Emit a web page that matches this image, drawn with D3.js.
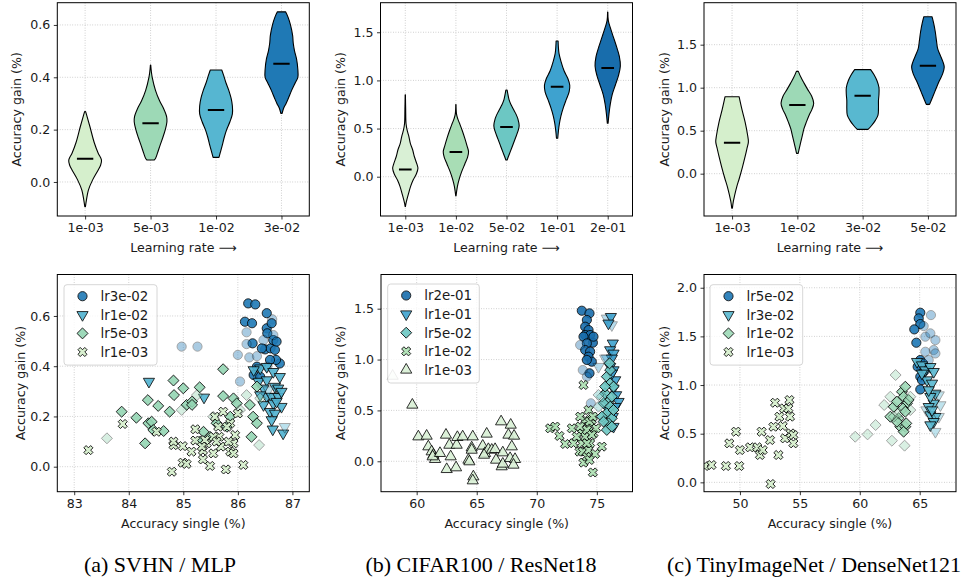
<!DOCTYPE html>
<html><head><meta charset="utf-8">
<script src="https://cdn.jsdelivr.net/npm/d3@7"></script>
<style>body{margin:0;background:#fff}svg{display:block}text{font-family:"DejaVu Sans",sans-serif}</style>
</head><body><svg id="c" width="963" height="582"></svg>
<script>
// ---------------- DATA ----------------
// Top row: violins (profile = [value, relative half-width]) and medians
const svhnLR = ["1e-03","5e-03","1e-02","3e-02"];
const svhnMedians = [0.089, 0.224, 0.275, 0.452];
const svhnViolins = [
  [[0.269,0.03],[0.25,0.12],[0.21,0.3],[0.15,0.56],[0.11,0.8],[0.084,1.0],[0.065,0.95],[0.046,0.8],[0.008,0.46],[-0.031,0.2],[-0.069,0.08],[-0.094,0.02]],
  [[0.447,0.01],[0.42,0.05],[0.40,0.1],[0.35,0.3],[0.31,0.55],[0.28,0.8],[0.25,0.98],[0.23,1.0],[0.20,0.9],[0.17,0.75],[0.14,0.58],[0.11,0.42],[0.09,0.3],[0.084,0.22]],
  [[0.428,0.35],[0.41,0.45],[0.38,0.6],[0.35,0.78],[0.32,0.92],[0.29,1.0],[0.26,1.0],[0.23,0.85],[0.20,0.65],[0.17,0.5],[0.14,0.38],[0.11,0.25],[0.094,0.18]],
  [[0.65,0.25],[0.63,0.4],[0.60,0.55],[0.56,0.68],[0.53,0.72],[0.50,0.8],[0.47,0.92],[0.43,1.0],[0.40,1.0],[0.38,0.85],[0.35,0.62],[0.32,0.42],[0.30,0.28],[0.28,0.12],[0.262,0.04]]
];
const cifarLR = ["1e-03","1e-02","5e-02","1e-01","2e-01"];
const cifarMedians = [0.076, 0.256, 0.516, 0.934, 1.128];
const cifarViolins = [
  [[0.85,0.01],[0.70,0.03],[0.55,0.06],[0.48,0.15],[0.42,0.28],[0.346,0.4],[0.28,0.58],[0.207,0.72],[0.13,0.92],[0.087,1.0],[0.03,0.88],[-0.035,0.62],[-0.10,0.42],[-0.173,0.26],[-0.24,0.12],[-0.28,0.05],[-0.31,0.01]],
  [[0.75,0.01],[0.65,0.05],[0.60,0.15],[0.55,0.3],[0.48,0.5],[0.40,0.7],[0.32,0.88],[0.26,1.0],[0.20,0.92],[0.13,0.7],[0.05,0.45],[-0.03,0.25],[-0.10,0.12],[-0.16,0.05],[-0.20,0.01]],
  [[0.90,0.05],[0.85,0.12],[0.80,0.2],[0.75,0.35],[0.70,0.55],[0.65,0.75],[0.60,0.9],[0.53,1.0],[0.47,0.9],[0.40,0.7],[0.33,0.5],[0.26,0.3],[0.21,0.15],[0.173,0.05]],
  [[1.41,0.08],[1.35,0.1],[1.28,0.15],[1.20,0.3],[1.10,0.55],[1.02,0.85],[0.95,1.0],[0.88,0.95],[0.80,0.72],[0.72,0.5],[0.63,0.3],[0.55,0.18],[0.47,0.1],[0.40,0.05]],
  [[1.71,0.01],[1.62,0.05],[1.55,0.2],[1.45,0.45],[1.35,0.7],[1.25,0.92],[1.15,1.0],[1.05,0.85],[0.95,0.6],[0.85,0.35],[0.75,0.2],[0.65,0.1],[0.555,0.03]]
];
const tinyLR = ["1e-03","1e-02","3e-02","5e-02"];
const tinyMedians = [0.36, 0.80, 0.907, 1.256];
const tinyViolins = [
  [[0.895,0.43],[0.75,0.6],[0.6,0.8],[0.45,0.95],[0.37,1.0],[0.3,0.92],[0.2,0.8],[0.08,0.64],[-0.05,0.45],[-0.15,0.29],[-0.25,0.16],[-0.32,0.08],[-0.40,0.02]],
  [[1.19,0.06],[1.12,0.22],[1.05,0.42],[0.98,0.63],[0.90,0.88],[0.82,1.0],[0.75,0.9],[0.68,0.72],[0.60,0.55],[0.52,0.4],[0.44,0.3],[0.36,0.2],[0.28,0.1],[0.236,0.05]],
  [[1.21,0.49],[1.15,0.7],[1.08,0.88],[1.0,1.0],[0.92,1.0],[0.85,0.97],[0.76,0.97],[0.68,0.94],[0.62,0.78],[0.56,0.55],[0.515,0.33]],
  [[1.825,0.25],[1.75,0.35],[1.65,0.45],[1.55,0.52],[1.45,0.6],[1.38,0.75],[1.30,0.92],[1.24,1.0],[1.16,0.9],[1.08,0.7],[1.0,0.52],[0.92,0.35],[0.85,0.2],[0.806,0.1]]
];
const svhnGainTicks = [0.0,0.2,0.4,0.6];
const cifarGainTicks = [0.0,0.5,1.0,1.5];
const tinyGainTicks = [0.0,0.5,1.0,1.5];
const tinyGainTicksB = [0.0,0.5,1.0,1.5,2.0];
const svhnSingleTicks = [83,84,85,86,87];
const cifarSingleTicks = [60,65,70,75];
const tinySingleTicks = [50,55,60,65];

// Bottom row: scatter points [accuracy single, accuracy gain, run weight (1 normal, 0 faded)]
const svhnLr3e02 = [[86.19,0.650,1],[86.32,0.646,1],[86.13,0.577,1],[86.26,0.571,1],[86.16,0.535,0],[86.27,0.491,1],[86.16,0.488,0],[86.00,0.445,0],[86.21,0.435,0],[86.35,0.440,0],[86.50,0.467,1],[86.60,0.471,1],[86.68,0.465,1],[86.44,0.471,1],[86.53,0.551,1],[86.65,0.504,1],[86.54,0.531,1],[86.63,0.587,0],[86.53,0.611,1],[86.62,0.571,1],[86.71,0.498,1],[86.77,0.411,1],[86.70,0.425,1],[86.35,0.398,1],[86.29,0.365,1],[86.41,0.358,1],[86.59,0.425,1],[86.04,0.339,0],[84.97,0.478,0],[85.26,0.478,0],[86.47,0.504,0],[86.65,0.524,0],[86.54,0.398,0]];
const svhnLr1e02 = [[84.37,0.339,1],[85.38,0.276,1],[86.41,0.392,1],[86.53,0.398,1],[86.38,0.339,1],[86.53,0.345,1],[86.65,0.378,1],[86.77,0.358,1],[86.68,0.319,1],[86.74,0.312,1],[86.47,0.312,1],[86.53,0.279,1],[86.62,0.279,1],[86.74,0.279,1],[86.47,0.246,1],[86.65,0.252,1],[86.80,0.239,1],[86.59,0.219,1],[86.68,0.212,1],[86.62,0.186,1],[86.64,0.149,1],[86.83,0.133,1],[86.86,0.159,0],[86.80,0.299,1],[86.29,0.385,1],[86.56,0.305,0],[86.41,0.285,1],[86.71,0.259,1]];
const svhnLr5e03 = [[85.73,0.388,1],[84.82,0.343,1],[85.00,0.312,1],[85.30,0.316,1],[84.83,0.285,1],[84.35,0.265,1],[84.54,0.242,1],[83.87,0.219,1],[84.14,0.195,1],[84.36,0.173,1],[84.42,0.179,1],[84.64,0.142,1],[84.30,0.093,1],[84.75,0.219,1],[85.06,0.246,1],[85.16,0.259,1],[84.97,0.226,0],[83.60,0.113,0],[85.73,0.281,1],[85.92,0.272,1],[85.98,0.252,1],[86.16,0.285,0],[86.22,0.246,1],[86.35,0.319,1],[86.41,0.272,0],[86.28,0.199,1],[86.35,0.173,1],[86.25,0.119,1],[86.39,0.086,0],[85.55,0.199,0],[85.61,0.173,1],[85.37,0.139,1],[85.49,0.119,1],[85.80,0.159,1],[85.86,0.199,1],[86.04,0.226,0],[85.31,0.100,1],[85.25,0.285,0],[85.16,0.246,1],[84.45,0.146,1]];
const svhnLr1e03 = [[83.26,0.066,1],[83.89,0.170,1],[84.51,0.139,1],[84.79,-0.020,1],[84.82,0.086,1],[84.99,0.082,1],[84.99,0.016,1],[85.06,0.011,1],[85.15,0.060,1],[85.22,0.104,1],[85.22,0.149,1],[85.36,0.064,1],[85.36,0.029,1],[85.49,0.003,1],[85.55,0.053,1],[85.58,0.199,1],[85.64,0.159,1],[85.66,0.119,1],[85.69,0.080,1],[85.78,-0.011,1],[85.86,0.060,1],[85.86,0.173,1],[85.95,0.126,1],[85.92,0.093,1],[86.10,0.007,1],[85.43,0.093,1],[85.73,0.219,1],[85.83,0.100,1],[84.82,0.100,1],[85.40,0.106,1],[85.55,0.119,1],[85.92,0.053,1],[85.34,0.080,1],[85.61,0.100,1],[85.80,0.159,1],[86.00,0.212,1]];

const cifarLr2e01 = [[73.75,1.480,1],[74.39,1.454,1],[74.17,1.389,1],[74.03,1.323,1],[74.31,1.290,1],[74.03,1.241,1],[74.44,1.241,1],[73.89,1.225,1],[74.67,1.166,1],[74.17,1.159,1],[74.03,1.094,1],[74.44,1.078,1],[74.31,1.028,1],[74.58,0.979,1],[74.39,0.865,1],[73.83,0.897,0],[74.17,0.832,0],[73.61,1.143,0],[74.50,0.570,0],[74.72,1.225,1],[74.17,0.996,1]];
const cifarLr1e01 = [[75.83,1.405,0],[76.17,1.421,1],[76.25,1.340,0],[75.97,1.356,1],[76.33,1.160,1],[76.11,1.094,1],[76.39,1.061,1],[76.25,1.012,1],[75.83,1.012,0],[76.11,0.930,1],[76.39,0.897,1],[76.53,0.799,1],[76.39,0.717,1],[76.61,0.652,1],[76.81,0.586,1],[76.53,0.537,1],[75.14,0.930,0],[75.69,1.012,0],[76.25,0.864,1],[76.33,0.439,1],[76.39,0.341,1],[75.97,0.504,1]];
const cifarLr5e02 = [[75.83,0.832,1],[76.11,0.766,1],[75.69,0.668,1],[75.97,0.586,1],[75.56,0.570,1],[76.11,0.537,1],[75.83,0.472,1],[76.25,0.423,1],[75.42,0.635,0],[75.97,0.373,1],[75.83,0.308,1],[75.14,0.537,0],[75.42,0.439,1],[76.25,0.635,1],[76.25,0.341,1],[76.11,0.897,1],[76.39,0.734,1],[75.69,0.734,1],[76.39,0.504,1],[75.56,0.390,1],[76.06,0.963,1],[75.14,0.652,0]];
const cifarLr1e02 = [[71.11,0.324,1],[71.89,0.249,1],[71.53,0.341,1],[72.36,0.170,1],[72.92,0.324,1],[73.06,0.177,1],[73.56,0.095,1],[73.83,0.095,1],[73.89,-0.013,1],[74.17,0.046,1],[74.31,0.111,1],[74.44,0.177,1],[74.72,0.275,1],[74.31,0.341,1],[74.03,0.406,1],[74.31,0.504,1],[73.89,0.750,1],[74.58,0.406,1],[74.94,0.324,1],[75.42,0.144,1],[74.86,0.072,1],[74.39,0.013,1],[74.67,-0.110,1],[73.61,0.439,1],[73.75,0.275,1],[74.03,0.242,1],[73.61,0.341,1],[74.17,0.308,1],[74.58,0.259,1],[73.75,0.177,1],[74.17,0.177,1],[73.33,0.242,1],[74.39,0.390,1],[74.67,0.439,1]];
const cifarLr1e03 = [[58.00,0.838,0],[59.64,0.554,1],[60.14,0.242,1],[60.83,0.249,1],[60.97,0.144,1],[61.25,0.095,1],[61.39,0.062,1],[61.53,0.020,1],[61.33,0.046,1],[61.94,0.079,1],[62.44,0.259,1],[62.50,-0.079,1],[62.72,0.160,1],[62.83,0.046,1],[63.28,-0.062,1],[63.33,0.160,1],[63.39,0.236,1],[63.83,0.242,1],[64.31,0.013,1],[64.39,-0.003,1],[64.58,0.134,1],[64.67,0.242,1],[64.58,0.111,1],[64.72,-0.151,1],[64.67,-0.190,1],[65.50,0.151,1],[65.69,0.079,1],[65.83,0.269,1],[65.97,0.118,1],[66.25,0.111,1],[66.53,0.118,1],[66.61,0.013,1],[67.03,0.390,1],[67.17,0.085,1],[67.08,-0.052,1],[67.17,-0.026,1],[67.64,0.259,1],[67.83,0.357,1],[67.92,0.144,1],[67.78,0.029,1],[68.11,0.249,1],[68.19,0.020,1],[68.06,-0.036,1],[65.61,0.062,1]];

const tinyLr5e02 = [[65.05,1.743,1],[64.92,1.685,1],[65.05,1.627,1],[64.55,1.572,1],[64.72,1.435,1],[65.33,1.606,0],[65.47,1.497,0],[65.89,1.531,0],[65.94,1.719,0],[66.31,1.462,0],[66.17,1.360,0],[66.31,1.325,0],[65.47,1.342,0],[65.05,1.257,1],[65.27,1.223,1],[64.83,1.188,1],[65.19,1.188,0],[65.33,1.137,1],[65.05,1.086,1],[65.19,1.051,1],[65.05,0.955,1],[65.47,1.154,0],[65.75,1.257,0]];
const tinyLr3e02 = [[64.78,1.240,1],[65.19,1.205,1],[65.47,1.154,1],[65.89,1.188,1],[66.17,1.137,1],[65.61,1.051,1],[66.03,1.017,1],[66.31,0.914,1],[66.59,0.897,0],[66.73,0.795,0],[66.17,0.812,1],[65.89,0.880,1],[65.56,0.743,0],[65.89,0.692,1],[66.31,0.675,1],[66.59,0.675,0],[66.17,0.623,1],[65.89,0.589,1],[66.31,0.521,0],[65.75,0.777,1],[66.03,0.743,1],[65.19,1.120,1],[65.75,0.949,1]];
const tinyLr1e02 = [[59.62,0.469,0],[60.65,0.493,0],[61.32,0.589,0],[62.04,0.795,0],[62.55,0.880,0],[62.99,1.103,0],[62.68,0.428,0],[62.55,0.675,1],[62.83,0.777,1],[63.10,0.829,1],[63.24,0.658,1],[63.38,0.572,1],[63.52,0.931,1],[63.66,0.880,1],[63.80,0.983,1],[63.94,0.812,1],[64.08,0.846,1],[63.60,0.760,1],[63.80,0.572,1],[63.66,0.521,1],[63.88,0.606,1],[63.74,0.377,0],[63.10,0.623,1],[64.22,0.743,0],[63.24,0.709,0],[62.83,0.675,0],[63.80,0.726,1],[64.22,0.880,0]];
const tinyLr1e03 = [[47.07,0.168,1],[47.63,0.178,1],[48.83,0.168,1],[49.11,0.401,1],[49.67,0.521,1],[50.00,0.332,1],[49.94,0.168,1],[50.84,0.360,1],[51.45,0.360,1],[51.67,0.281,1],[51.90,0.332,1],[51.81,0.521,1],[52.51,0.435,1],[52.56,-0.017,1],[52.79,0.572,1],[52.93,0.818,1],[53.21,0.281,1],[53.29,0.675,1],[53.57,0.579,1],[53.68,0.760,1],[53.76,0.452,1],[54.04,0.760,1],[54.13,0.846,1],[54.18,0.675,1],[54.24,0.503,1],[54.46,0.486,1],[54.46,0.401,1]];

const captions = ["(a) SVHN / MLP","(b) CIFAR100 / ResNet18","(c) TinyImageNet / DenseNet121"];

// ---------------- DRAWING ----------------
const svg = d3.select("#c");
const GRID = "#b8b8b8", TXT = "#1a1a1a", FS = 12.6;
let clipId = 0;

function panel(c) {
  const g = svg.append("g");
  const x = d3.scaleLinear().domain(c.xDom).range([c.l, c.r]);
  const y = d3.scaleLinear().domain(c.yDom).range([c.b, c.t]);
  const gg = g.append("g");
  gg.selectAll("line.gx").data(c.xTicks).join("line")
    .attr("x1", d => x(d)).attr("x2", d => x(d)).attr("y1", c.t).attr("y2", c.b);
  gg.selectAll("line.gy").data(c.yTicks).join("line").attr("class","gy")
    .attr("x1", c.l).attr("x2", c.r).attr("y1", d => y(d)).attr("y2", d => y(d));
  gg.selectAll("line").attr("stroke", GRID).attr("stroke-width", 0.8).attr("stroke-dasharray", "0.8,1.7");
  const ax = g.append("g").attr("transform", `translate(0,${c.b})`)
    .call(d3.axisBottom(x).tickValues(c.xTicks).tickFormat(c.xFmt).tickSize(3.5).tickPadding(3.5));
  const ay = g.append("g").attr("transform", `translate(${c.l},0)`)
    .call(d3.axisLeft(y).tickValues(c.yTicks).tickFormat(d3.format(".1f")).tickSize(3.5).tickPadding(3.5));
  [ax, ay].forEach(a => {
    a.select(".domain").remove();
    a.selectAll("line").attr("stroke", "#000").attr("stroke-width", 0.8);
    a.selectAll("text").attr("font-size", FS).attr("fill", TXT).attr("font-family", "DejaVu Sans");
  });
  g.append("text").attr("x", (c.l + c.r) / 2).attr("y", c.xlabY).attr("text-anchor", "middle")
    .attr("font-size", FS).attr("fill", TXT).text(c.xlab);
  g.append("text").attr("transform", `translate(${c.ylabX},${(c.t + c.b) / 2}) rotate(-90)`)
    .attr("text-anchor", "middle").attr("dy", "0.35em").attr("font-size", FS).attr("fill", TXT).text("Accuracy gain (%)");
  const id = "clip" + (clipId++);
  g.append("clipPath").attr("id", id).append("rect")
    .attr("x", c.l).attr("y", c.t).attr("width", c.r - c.l).attr("height", c.b - c.t);
  const body = g.append("g").attr("clip-path", `url(#${id})`);
  const top = g.append("g");
  top.append("rect").attr("x", c.l).attr("y", c.t).attr("width", c.r - c.l).attr("height", c.b - c.t)
    .attr("fill", "none").attr("stroke", "#000").attr("stroke-width", 1);
  return { g, x, y, body, top };
}

function violins(c, profiles, medians, colors) {
  const p = panel(c);
  profiles.forEach((prof, i) => {
    const pos = i + 1;
    const area = d3.area().curve(d3.curveCatmullRom.alpha(0.5))
      .y(d => p.y(d[0])).x0(d => p.x(pos - d[1] * 0.25)).x1(d => p.x(pos + d[1] * 0.25));
    p.body.append("path").attr("d", area(prof)).attr("fill", colors[i])
      .attr("stroke", "#000").attr("stroke-width", 1.1).attr("stroke-linejoin", "round");
    p.body.append("line").attr("x1", p.x(pos - 0.125)).attr("x2", p.x(pos + 0.125))
      .attr("y1", p.y(medians[i])).attr("y2", p.y(medians[i])).attr("stroke", "#000").attr("stroke-width", 2);
  });
  return p;
}

const SHAPES = {
  circle: { type: d3.symbolCircle, size: 66, rot: 0 },
  tdown: { type: d3.symbolTriangle, size: 54, rot: 180 },
  tup: { type: d3.symbolTriangle, size: 54, rot: 0 },
  diamond: { type: d3.symbolSquare, size: 60, rot: 45 },
  cross: { type: d3.symbolCross, size: 52, rot: 45 }
};
const alpha = d3.scaleLinear().domain([0, 1]).range([0.38, 0.9]);

function scatter(c, series, legend) {
  const p = panel(c);
  series.forEach(s => {
    const sh = SHAPES[s.shape];
    const sym = d3.symbol(sh.type, sh.size);
    p.body.selectAll(null).data(s.pts).join("path")
      .attr("d", sym)
      .attr("transform", d => `translate(${p.x(d[0])},${p.y(d[1])}) rotate(${sh.rot})`)
      .attr("fill", s.color).attr("stroke", "#000").attr("stroke-width", 0.9)
      .attr("opacity", d => alpha(d[2]));
  });
  // legend
  const L = legend;
  const lg = p.top.append("g");
  lg.append("rect").attr("x", L.x).attr("y", L.y).attr("width", L.w).attr("height", 6 + series.length * 18.6)
    .attr("rx", 3).attr("fill", "#fff").attr("fill-opacity", 0.8).attr("stroke", "#cccccc").attr("stroke-width", 0.8);
  series.forEach((s, i) => {
    const sh = SHAPES[s.shape];
    const yy = L.y + 11.5 + i * 18.6;
    lg.append("path").attr("d", d3.symbol(sh.type, sh.size)())
      .attr("transform", `translate(${L.x + 18.5},${yy}) rotate(${sh.rot})`)
      .attr("fill", s.color).attr("stroke", "#000").attr("stroke-width", 0.9).attr("opacity", 0.9);
    lg.append("text").attr("x", L.x + 36.5).attr("y", yy).attr("dy", "0.36em")
      .attr("font-size", 13.4).attr("fill", TXT).text(s.name);
  });
  return p;
}

const lrFmt = arr => (d => arr[d - 1]);
const topBase = { t: 2.7, b: 216, xlabY: 252, xlab: "Learning rate \u27F6" };
const botBase = { t: 274.5, b: 491.7, xlabY: 527.5, xlab: "Accuracy single (%)", xFmt: d3.format("d") };

violins({ ...topBase, l: 57.3, r: 309.3, xDom: [0.575, 4.425], yDom: [-0.130, 0.685], ylabX: 17,
  xTicks: [1,2,3,4], xFmt: lrFmt(svhnLR), yTicks: svhnGainTicks }, svhnViolins, svhnMedians,
  ["#d5efcc","#9dd9b6","#56b6d1","#1f79b5"]);
violins({ ...topBase, l: 380.5, r: 632.5, xDom: [0.51, 5.49], yDom: [-0.408, 1.807], ylabX: 341,
  xTicks: [1,2,3,4,5], xFmt: lrFmt(cifarLR), yTicks: cifarGainTicks }, cifarViolins, cifarMedians,
  ["#d9f0d5","#a8ddb5","#6cc7c3","#3ea2cf","#186dac"]);
violins({ ...topBase, l: 704, r: 956, xDom: [0.57, 4.43], yDom: [-0.492, 1.988], ylabX: 665,
  xTicks: [1,2,3,4], xFmt: lrFmt(tinyLR), yTicks: tinyGainTicks }, tinyViolins, tinyMedians,
  ["#d5efcc","#9dd9b6","#58b8d0","#1c77b5"]);

scatter({ ...botBase, l: 57.3, r: 309.3, xDom: [82.69, 87.31], yDom: [-0.0995, 0.765], ylabX: 21,
  xTicks: svhnSingleTicks, yTicks: svhnGainTicks }, [
  { name: "lr3e-02", shape: "circle", color: "#1f79b5", pts: svhnLr3e02 },
  { name: "lr1e-02", shape: "tdown", color: "#4fb2d0", pts: svhnLr1e02 },
  { name: "lr5e-03", shape: "diamond", color: "#94d5b3", pts: svhnLr5e03 },
  { name: "lr1e-03", shape: "cross", color: "#d5efcc", pts: svhnLr1e03 }
], { x: 64, y: 284.7, w: 93 });

scatter({ ...botBase, l: 381, r: 632.5, xDom: [57.03, 77.97], yDom: [-0.299, 1.836], ylabX: 341,
  xTicks: cifarSingleTicks, yTicks: cifarGainTicks }, [
  { name: "lr2e-01", shape: "circle", color: "#186dac", pts: cifarLr2e01 },
  { name: "lr1e-01", shape: "tdown", color: "#3ea2cf", pts: cifarLr1e01 },
  { name: "lr5e-02", shape: "diamond", color: "#6cc7c3", pts: cifarLr5e02 },
  { name: "lr1e-02", shape: "cross", color: "#ace0b2", pts: cifarLr1e02 },
  { name: "lr1e-03", shape: "tup", color: "#d9f0d5", pts: cifarLr1e03 }
], { x: 387.7, y: 284, w: 91.6 });

scatter({ ...botBase, l: 704, r: 956, xDom: [47.0, 68.03], yDom: [-0.096, 2.136], ylabX: 665,
  xTicks: tinySingleTicks, yTicks: tinyGainTicksB }, [
  { name: "lr5e-02", shape: "circle", color: "#1c77b5", pts: tinyLr5e02 },
  { name: "lr3e-02", shape: "tdown", color: "#58b8d0", pts: tinyLr3e02 },
  { name: "lr1e-02", shape: "diamond", color: "#9dd9b6", pts: tinyLr1e02 },
  { name: "lr1e-03", shape: "cross", color: "#d5efcc", pts: tinyLr1e03 }
], { x: 710, y: 284.7, w: 92.7 });

svg.selectAll("text.cap").data(captions).join("text").attr("class", "cap")
  .attr("x", (d, i) => [160, 481, 814][i]).attr("y", 572).attr("text-anchor", "middle")
  .style("font-family", "'Liberation Serif', serif")
  .attr("font-size", 22).attr("fill", "#000").text(d => d);
</script></body></html>
